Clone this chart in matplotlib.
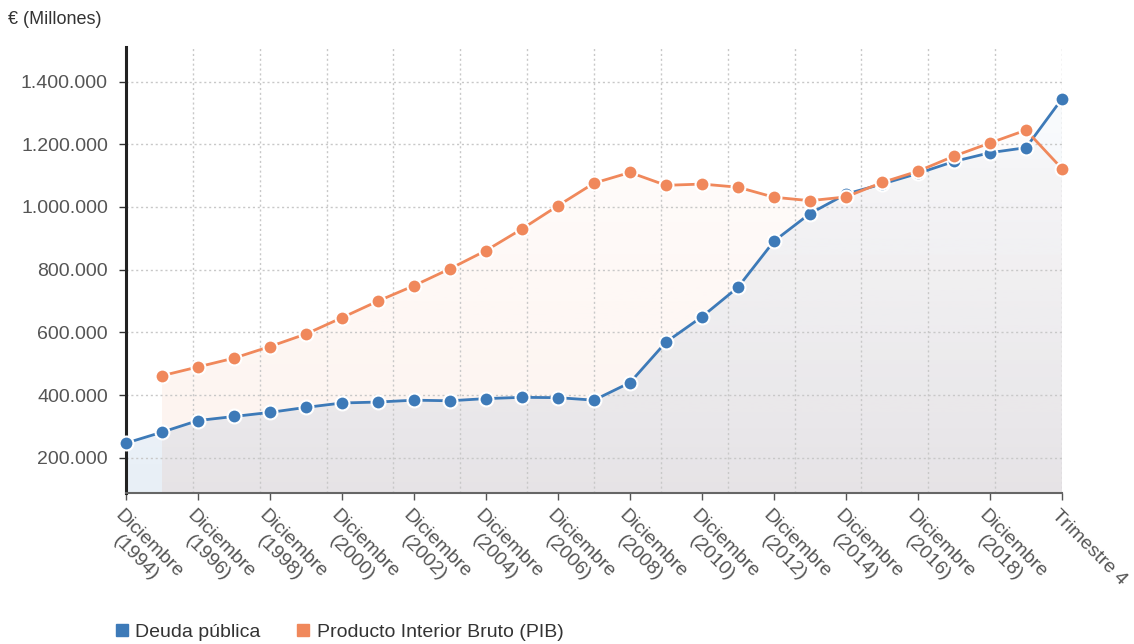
import numpy as np
import matplotlib
matplotlib.use("Agg")
import matplotlib.pyplot as plt
import matplotlib.colors as mcolors
from matplotlib.patches import PathPatch
from matplotlib.lines import Line2D
from matplotlib.transforms import ScaledTranslation

plt.rcParams['font.family'] = ['Liberation Sans', 'DejaVu Sans']

# categorias: diciembre de cada año 1994-2019 y el ultimo trimestre
periodos = [f"Diciembre\n({a})" for a in range(1994, 2020)] + ["Trimestre 4"]

# millones de euros
deuda = [247000, 282000, 319000, 332000, 345000, 361000, 375000, 378000, 384000,
         382000, 389000, 393000, 392000, 384000, 440000, 569000, 650000, 744000,
         891000, 979000, 1041000, 1073000, 1107000, 1145000, 1173000, 1189000,
         1345000]
# el PIB empieza en 1995
pib = [None, 462000, 490000, 518000, 555000, 595000, 647000, 700000, 749000,
       803000, 861000, 930000, 1004000, 1076000, 1110000, 1069000, 1073000,
       1063000, 1031000, 1020000, 1032000, 1078000, 1114000, 1162000, 1204000,
       1245000, 1122000]

azul = '#3d7ab8'
naranja = '#f0885b'
ymin, ymax = 88000, 1510000

fig = plt.figure(figsize=(11.34, 6.44), dpi=100)
ax = fig.add_axes([126/1134, 1 - 493/644, 936/1134, 446/644])

x = np.arange(len(periodos))
xp = np.array([i for i, v in enumerate(pib) if v is not None])
yp = np.array([v for v in pib if v is not None])


def relleno_degradado(xs, ys, color, a_top, a_bot, z):
    poly = ax.fill_between(xs, ys, ymin, facecolor='none', edgecolor='none')
    clip = PathPatch(poly.get_paths()[0], transform=ax.transData,
                     facecolor='none', edgecolor='none')
    ax.add_patch(clip)
    grad = np.zeros((256, 1, 4))
    grad[:, :, :3] = mcolors.to_rgb(color)
    grad[:, 0, 3] = np.linspace(a_top, a_bot, 256)
    im = ax.imshow(grad, aspect='auto', origin='upper', zorder=z,
                   extent=[x[0], x[-1], ymin, ymax])
    im.set_clip_path(clip)


relleno_degradado(xp, yp, naranja, 0.0, 0.11, 1)
relleno_degradado(x, deuda, azul, 0.02, 0.12, 1.1)

# rejilla punteada
yticks = [200000, 400000, 600000, 800000, 1000000, 1200000, 1400000]
for yv in yticks:
    ax.axhline(yv, color='#c8c8c8', lw=1, ls=(0, (1.5, 2)), zorder=2)
for xv in np.linspace(0, x[-1], 15)[1:]:
    ax.axvline(xv, color='#c8c8c8', lw=1, ls=(0, (1.5, 2)), zorder=2)

ax.plot(x, deuda, color=azul, lw=2, marker='o', ms=10, mfc=azul,
        mec='white', mew=1.5, zorder=4, clip_on=False)
ax.plot(xp, yp, color=naranja, lw=2, marker='o', ms=10, mfc=naranja,
        mec='white', mew=1.5, zorder=4, clip_on=False)

ax.set_xlim(x[0], x[-1])
ax.set_ylim(ymin, ymax)

ax.set_yticks(yticks)
ax.set_yticklabels([f"{v:,}".replace(',', '.') for v in yticks],
                   fontsize=14, color='#555555')
ax.tick_params(axis='y', length=5, width=1, color='#333333', pad=8)

ax.set_xticks(x[::2])
ax.set_xticklabels(periodos[::2], rotation=-45, ha='left', va='top',
                   rotation_mode='anchor', fontsize=14, color='#555555',
                   multialignment='center')
ax.tick_params(axis='x', length=5, width=1, color='#555555', pad=4)
desplaza = ScaledTranslation(-2/100, -1/100, fig.dpi_scale_trans)
for lab in ax.get_xticklabels():
    lab.set_transform(lab.get_transform() + desplaza)

for lado in ['top', 'right']:
    ax.spines[lado].set_visible(False)
ax.spines['left'].set_color('#222222')
ax.spines['left'].set_linewidth(2.2)
ax.spines['bottom'].set_color('#666666')
ax.spines['bottom'].set_linewidth(1.5)

fig.text(8/1134, 1 - 20/644, '€ (Millones)', fontsize=13, color='#333333',
         va='center', ha='left')

handles = [Line2D([], [], marker='s', ls='', color=azul, ms=9),
           Line2D([], [], marker='s', ls='', color=naranja, ms=9)]
fig.legend(handles, ['Deuda pública', 'Producto Interior Bruto (PIB)'],
           loc='center left', bbox_to_anchor=(104/1134, 1 - 632/644),
           ncol=2, frameon=False, fontsize=14, handletextpad=0.2,
           columnspacing=1.7, labelcolor='#333333', borderaxespad=0,
           handlelength=1)

fig.savefig('out.png', dpi=100)
